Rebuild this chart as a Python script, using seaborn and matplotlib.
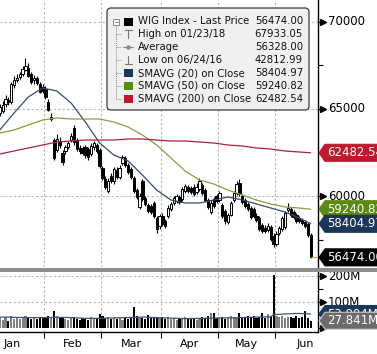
import numpy as np
import pandas as pd
import matplotlib
matplotlib.use("Agg")
import matplotlib.pyplot as plt
import seaborn as sns
from matplotlib.patches import Polygon, Rectangle, FancyBboxPatch
from matplotlib.transforms import blended_transform_factory

# ---------------- data ----------------
holidays = ["2018-01-01", "2018-03-30", "2018-04-02", "2018-05-01", "2018-05-03", "2018-05-31"]
first_day, last_day = "2018-01-10", "2018-06-19"

open_ = [64770, 64885, 65287, 65517, 65402, 66379, 66667, 66839, 67012, 67241, 67356, 67012, 66667, 66782, 66437, 66264,
         66149, 65402, 64425, 63218, 62644, 63161, 62471, 62586, 62816, 63218, 63908, 63161, 62759, 62759, 62816, 62701, 62414, 62816, 62931, 62644,
         61609, 60977, 60287, 61150, 60862, 61494, 61092, 61897, 62184, 61782, 61552, 61035, 60345, 59368, 60862, 59885, 59483, 59425, 59598, 58736, 58276,
         58851, 58563, 58851, 59253, 59598, 59713, 59943, 59828, 60287, 60517, 60460, 60517, 60230, 60402, 60632, 60345, 59770, 59081, 59828, 60000,
         59770, 59483, 59138, 58506, 58908, 59770, 60173, 60747, 60000, 59770, 59540, 59311, 59253, 58851, 58736, 58334, 58161, 58046, 58219, 57701,
         57242, 57874, 58104, 58219, 59196, 59253, 59081, 58908, 58736, 58621, 58506, 58391, 57759]
close = [65115, 65230, 65575, 65402, 66437, 66667, 66782, 67012, 67299, 67471, 66897, 66552, 66782, 66494, 65977, 66035,
         65690, 64943, 64540, 62184, 63276, 62931, 61954, 62816, 63046, 63448, 63104, 62701, 62586, 62471, 62356, 62242, 62874, 63046, 62586, 61724,
         61035, 60517, 60862, 60862, 61552, 61092, 61609, 62242, 61782, 61379, 61092, 60287, 59943, 60000, 59828, 59540, 59138, 59081, 58851, 58104, 58851,
         58391, 58276, 59311, 59540, 59885, 60000, 59655, 60402, 60575, 60287, 60230, 60115, 60517, 60862, 60173, 59770, 59368, 59598, 59425, 59713,
         60173, 58851, 58563, 58908, 59598, 60173, 60690, 60115, 59655, 59425, 59253, 58793, 58851, 58621, 58104, 57989, 57989, 58276, 57529, 57242,
         57816, 58161, 58736, 59023, 59311, 58908, 58793, 58563, 58563, 58449, 58276, 57759, 56474]
high = [65287, 65460, 65805, 65690, 66552, 66897, 67012, 67126, 67471, 67933.05, 67644, 67126, 66954, 66897, 66552, 66437,
        66322, 65575, 64770, 63333, 63563, 63391, 62644, 62931, 63161, 63621, 64081, 63333, 62931, 62874, 62931, 62816, 63046, 63161, 63046, 62759,
        61724, 61150, 61035, 61322, 61667, 61667, 61782, 62356, 62299, 61897, 61667, 61150, 60460, 60173, 60977, 60000, 59598, 59540, 59713, 58851, 58966,
        59023, 58678, 59483, 59655, 60000, 60115, 60058, 60517, 60690, 60632, 60575, 60690, 60747, 61035, 60747, 60460, 59885, 59770, 59943, 60115,
        60287, 59598, 59253, 59023, 59713, 60287, 60862, 60977, 60115, 59885, 59655, 59425, 59368, 59023, 58851, 58449, 58334, 58449, 58334, 57874,
        57989, 58276, 58851, 59138, 59598, 59368, 59196, 59023, 58851, 58736, 58621, 58506, 57874]
low = [64598, 64770, 65115, 65230, 65287, 66207, 66552, 66724, 66897, 67184, 66839, 66437, 66437, 66379, 65920, 65920,
       65575, 64885, 64310, 62069, 62529, 62759, 61782, 62414, 62701, 63104, 62931, 62586, 62414, 62356, 62184, 62069, 62299, 62644, 62471, 61609,
       60920, 60402, 60173, 60747, 60690, 60977, 60977, 61782, 61667, 61264, 60977, 60173, 59828, 59253, 59713, 59425, 59023, 58966, 58736, 57874, 58104,
       58276, 58161, 58736, 59138, 59483, 59598, 59540, 59713, 60173, 60173, 60115, 60000, 60115, 60287, 60058, 59655, 59253, 58966, 59311, 59598,
       59655, 58736, 58391, 58391, 58851, 59655, 60058, 60000, 59540, 59311, 59138, 58678, 58736, 58506, 57989, 57874, 57874, 57931, 57414, 57069,
       57127, 57759, 57989, 58104, 59081, 58793, 58678, 58449, 58449, 58334, 58161, 57644, 56437]
volume_m = [38, 30, 42, 27, 45, 35, 40, 33, 44, 48, 41, 36, 39, 34, 43, 37,
            40, 46, 38, 66, 48, 37, 44, 35, 32, 39, 42, 36, 31, 38, 34, 30, 41, 36, 33, 53,
            45, 38, 42, 35, 40, 33, 37, 30, 39, 36, 42, 82, 47, 41, 38, 35, 50, 37, 40, 44, 39,
            41, 36, 44, 33, 38, 31, 40, 35, 42, 37, 34, 39, 32, 36, 43, 38, 45, 58, 56, 40,
            38, 44, 36, 41, 47, 39, 43, 58, 40, 37, 45, 42, 48, 38, 44, 58, 40, 55, 46, 205,
            48, 42, 45, 39, 44, 41, 37, 46, 40, 43, 66, 38, 27.841]

sma_idx = [0, 5, 10, 15, 20, 25, 30, 35, 40, 45, 50, 55, 60, 65, 70, 75, 80, 85, 90, 95, 100, 105, 109]
sma20 = [63793, 64770, 65690, 66207, 66035, 65345, 64253, 63046, 62356, 62011, 61207, 60345, 59770, 59598, 59598,
         59770, 59943, 59770, 59540, 59311, 59081, 58736, 58404.97]
sma50 = [63621, 63793, 64081, 64368, 64483, 64425, 64425, 64425, 64253, 63966, 63506, 62931, 62184, 61437, 60920,
         60690, 60345, 60058, 59770, 59540, 59368, 59311, 59240.82]
sma200 = [62414, 62586, 62759, 62931, 63104, 63161, 63218, 63218, 63218, 63276, 63276, 63218, 63161, 63161, 63104,
          63046, 62931, 62874, 62759, 62701, 62586, 62529, 62482.54]
vol_sma_idx = [0, 5, 10, 15, 20, 25, 30, 35, 40, 45, 50, 55, 60, 65, 70, 75, 80, 85, 90, 95, 96, 100, 105, 109]
vol_sma_m = [42, 41, 40, 40, 41, 40, 37, 37, 39, 40, 42, 40, 38, 36, 37, 38, 39, 40, 42, 43, 51, 54, 56, 53.804]

legend_labels = ["WIG Index - Last Price", "High on 01/23/18", "Average", "Low on 06/24/16",
                 "SMAVG (20) on Close", "SMAVG (50) on Close", "SMAVG (200) on Close"]
legend_values = ["56474.00", "67933.05", "56328.00", "42812.99", "58404.97", "59240.82", "62482.54"]
last_price, last_sma20, last_sma50, last_sma200 = 56474.00, 58404.97, 59240.82, 62482.54
last_vol_m, last_vol_sma_m = 27.841, 53.804
price_ticks = [60000, 65000, 70000]
price_minor = [57500, 62500, 67500]
vol_ticks_m = [0, 100, 200]
vol_minor_m = [50, 150]

# ---------------- dates / months ----------------
all_days = pd.bdate_range("2018-01-02", "2018-06-29")
all_days = all_days[~all_days.isin(pd.to_datetime(holidays))]
start_pos = int(np.where(all_days == pd.Timestamp(first_day))[0][0])
pos_all = np.arange(len(all_days)) - start_pos
months = all_days.month
bounds = [pos_all[months == m][0] - 0.5 for m in range(2, 7)]
centers = [(pos_all[months == m][0] + pos_all[months == m][-1]) / 2 for m in range(1, 7)]
month_names = ["Jan", "Feb", "Mar", "Apr", "May", "Jun"]

open_, close, high, low = map(np.array, (open_, close, high, low))
vol = np.array(volume_m) * 1e6
n = len(close)
x = np.arange(n)

# ---------------- style ----------------
sns.set_theme(style="white")
plt.rcParams["font.family"] = ["DejaVu Sans"]
W, H = 377, 354
fig = plt.figure(figsize=(W / 100, H / 100), dpi=100)
fig.patch.set_facecolor("white")


def frac(x0, y0, x1, y1):
    return [x0 / W, 1 - y1 / H, (x1 - x0) / W, (y1 - y0) / H]


ax = fig.add_axes(frac(0, 0, 318, 267))
axv = fig.add_axes(frac(0, 272, 318, 332))
XL = (0.07, 111.57)
P_LIM = (55920, 71264)
V_LIM = (-15.4e6, 215.4e6)

grid_kw = dict(color="#b4b4b4", lw=0.8, ls=(0, (2, 2)), zorder=1)
C20, C50, C200 = "#3a4b66", "#8d9c3e", "#a5233f"

# ---------------- price panel ----------------
for b in bounds:
    ax.axvline(b, **grid_kw)
    axv.axvline(b, **grid_kw)
for t in price_ticks:
    ax.axhline(t, **grid_kw)
for t in [100e6, 200e6]:
    axv.axhline(t, **grid_kw)

up = close >= open_
lo_b = np.minimum(open_, close)
h_b = np.maximum(np.abs(close - open_), 25)
ax.vlines(x, low, high, color="black", lw=0.8, zorder=3)
ax.bar(x[up], h_b[up], bottom=lo_b[up], width=0.8, facecolor="white", edgecolor="black", lw=0.7, zorder=4)
ax.bar(x[~up], h_b[~up], bottom=lo_b[~up], width=0.8, facecolor="black", edgecolor="black", lw=0.7, zorder=4)

sma_df = pd.DataFrame({"idx": sma_idx, "SMAVG (20)": sma20, "SMAVG (50)": sma50, "SMAVG (200)": sma200})
sma_long = sma_df.melt(id_vars="idx", var_name="series", value_name="value")
sns.lineplot(data=sma_long, x="idx", y="value", hue="series",
             palette={"SMAVG (20)": C20, "SMAVG (50)": C50, "SMAVG (200)": C200},
             ax=ax, legend=False, lw=0.9, zorder=5)
ax.hlines(last_price, x[-1], XL[1], color="#d9a441", lw=0.9, zorder=5)

ax.set_xlim(*XL)
ax.set_ylim(*P_LIM)
ax.set_xticks([])
ax.set_yticks([])
ax.set_xlabel("")
ax.set_ylabel("")
for s in ["left", "top", "bottom"]:
    ax.spines[s].set_visible(False)
ax.spines["right"].set_color("black")
ax.spines["right"].set_linewidth(1.0)

# ---------------- volume panel ----------------
vup = close >= open_
axv.bar(x, vol, width=0.75, color=np.where(vup, "#808080", "#000000"), lw=0, zorder=3)
vdf = pd.DataFrame({"idx": vol_sma_idx, "v": np.array(vol_sma_m) * 1e6})
sns.lineplot(data=vdf, x="idx", y="v", ax=axv, color="#3f5470", lw=0.9, zorder=4)
axv.set_xlim(*XL)
axv.set_ylim(*V_LIM)
axv.set_yticks([])
axv.set_ylabel("")
axv.set_xlabel("")
for s in ["left", "top"]:
    axv.spines[s].set_visible(False)
for s in ["right", "bottom"]:
    axv.spines[s].set_color("black")
    axv.spines[s].set_linewidth(1.0)
axv.set_xticks(bounds)
axv.set_xticklabels([])
axv.set_xticks(centers, month_names, minor=True)
axv.tick_params(axis="x", which="major", direction="out", length=4, width=0.8, color="black", bottom=True)
axv.tick_params(axis="x", which="minor", length=0, pad=5, labelsize=8, labelcolor="black")

# ---------------- right axes: ticks, labels, tags ----------------
def right_axis(axis, majors, minors, labels):
    tr = blended_transform_factory(axis.transAxes, axis.transData)
    axis.plot([1 + 5 / 318] * len(majors), majors, ls="none", marker=">", ms=4.5, color="black",
              transform=tr, clip_on=False, zorder=5)
    axis.hlines(majors, 1.0, 1 + 5 / 318, color="black", lw=0.8, transform=tr, clip_on=False)
    axis.hlines(minors, 1.0, 1 + 5 / 318, color="black", lw=0.8, transform=tr, clip_on=False)
    for v, lab in zip(majors, labels):
        if lab:
            axis.text(1 + 10 / 318, v, lab, transform=tr, fontsize=8.5, color="black",
                      va="center", ha="left", clip_on=False, zorder=5)
    return tr


def tag(axis, tr, yval, half, text, fc, ec=None, z=7):
    pts = [(1 + 1 / 318, yval), (1 + 7 / 318, yval + half), (1 + 90 / 318, yval + half),
           (1 + 90 / 318, yval - half), (1 + 7 / 318, yval - half)]
    axis.add_patch(Polygon(pts, closed=True, transform=tr, facecolor=fc, edgecolor=ec or fc,
                           lw=0.8, clip_on=False, zorder=z))
    axis.text(1 + 9 / 318, yval, text, transform=tr, color="white", fontsize=8.5,
              va="center", ha="left", clip_on=False, zorder=z + 0.5)


p_px = (P_LIM[1] - P_LIM[0]) / 267
v_px = (V_LIM[1] - V_LIM[0]) / 60
trp = right_axis(ax, price_ticks, price_minor, [str(t) for t in price_ticks])
trv = right_axis(axv, [t * 1e6 for t in vol_ticks_m], [t * 1e6 for t in vol_minor_m],
                 ["", "100M", "200M"])

tag(ax, trp, last_sma200, 8.5 * p_px, f"{last_sma200:.2f}", "#c0182f", z=7)
tag(ax, trp, last_sma50, 8.5 * p_px, f"{last_sma50:.2f}", "#5b8a12", z=8)
tag(ax, trp, last_sma20, 8.5 * p_px, f"{last_sma20:.2f}", "#1c3657", z=9)
tag(ax, trp, last_price, 8.5 * p_px, f"{last_price:.2f}", "#000000", z=10)
tag(axv, trv, last_vol_sma_m * 1e6, 8.5 * v_px, f"{last_vol_sma_m:.3f}M", "#1c3657", z=7)
tag(axv, trv, last_vol_m * 1e6, 8.5 * v_px, f"{last_vol_m:.3f}M", "#6b6b6b", ec="#c8c8c8", z=8)

# ---------------- overlay: separator and legend ----------------
axo = fig.add_axes([0, 0, 1, 1], zorder=20)
axo.set_xlim(0, W)
axo.set_ylim(H, 0)
axo.axis("off")
axo.patch.set_alpha(0)
axo.add_patch(Rectangle((0, 267.5), W, 4.5, facecolor="#8c8c8c", edgecolor="none"))

axo.add_patch(FancyBboxPatch((107, 8), 202, 102, boxstyle="round,pad=0,rounding_size=4",
                             facecolor="#f0f0f0", edgecolor="#3c3c3c", lw=0.9))
rows_y = [21.5 + 12.9 * k for k in range(7)]
tree_c = "#8a8a8a"
axo.add_patch(Rectangle((113, rows_y[0] - 3), 6, 6, facecolor="white", edgecolor=tree_c, lw=0.7))
axo.plot([114.5, 117.5], [rows_y[0], rows_y[0]], color=tree_c, lw=0.7)
axo.plot([116, 116], [rows_y[0] + 3, rows_y[-1]], color=tree_c, lw=0.7, ls=(0, (1, 1)))
for yy in rows_y[1:]:
    axo.plot([116, 121], [yy, yy], color=tree_c, lw=0.7, ls=(0, (1, 1)))

sq_colors = {0: "#000000", 4: "#1c3657", 5: "#5b8a12", 6: "#c0182f"}
for k, yy in enumerate(rows_y):
    if k in sq_colors:
        axo.add_patch(Rectangle((124, yy - 4), 8.5, 8, facecolor=sq_colors[k], edgecolor="none"))
    elif k == 1:
        axo.plot([124.5, 131.5], [yy - 4, yy - 4], color="#777777", lw=0.8)
        axo.plot([128, 128], [yy - 4, yy + 4], color="#777777", lw=0.8)
    elif k == 2:
        axo.plot([123, 133], [yy, yy], color="#888888", lw=0.8)
        axo.plot([128], [yy], marker="o", ms=2.2, color="#888888")
    elif k == 3:
        axo.plot([124.5, 131.5], [yy + 4, yy + 4], color="#777777", lw=0.8)
        axo.plot([128, 128], [yy - 4, yy + 4], color="#777777", lw=0.8)
    axo.text(138, yy, legend_labels[k], fontsize=7.3, color="#111111", va="center", ha="left")
    axo.text(303, yy, legend_values[k], fontsize=7.3, color="#111111", va="center", ha="right")

fig.savefig("out.png", dpi=100)
